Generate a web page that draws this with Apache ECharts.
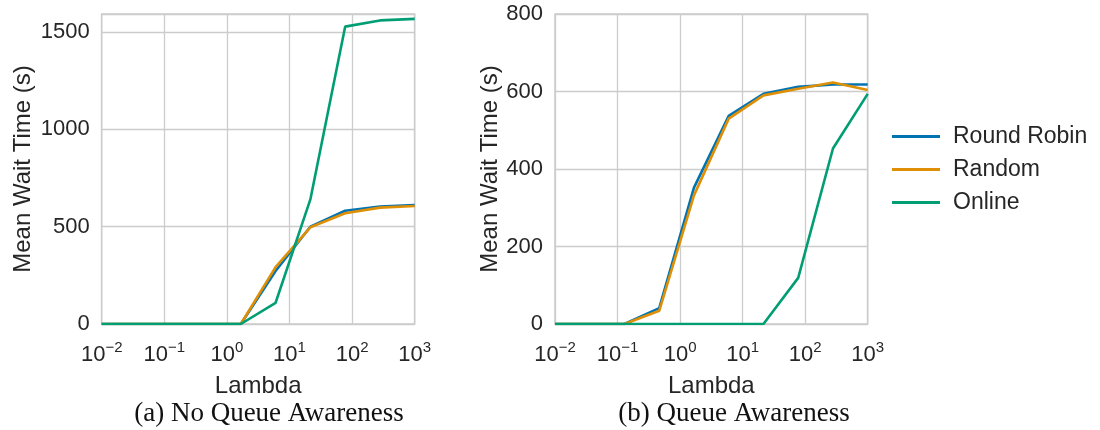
<!DOCTYPE html>
<html>
<head>
<meta charset="utf-8">
<script src="https://cdn.jsdelivr.net/npm/echarts@6/dist/echarts.min.js"></script>
<style>html,body{margin:0;padding:0;background:#fff}#c{width:1100px;height:430px}</style>
</head>
<body>
<div id="c"></div>
<script>
// Lambda values (log-spaced, 10 points from 1e-2 to 1e3)
const lambdas = [0.01, 0.0359, 0.129, 0.464, 1.668, 5.995, 21.54, 77.43, 278.3, 1000];
const seriesNames = ['Round Robin', 'Random', 'Online'];
// (a) No Queue Awareness
const noQA_roundRobin = [0, 0, 0, 0, 0, 272, 500, 582, 603, 611];
const noQA_random     = [0, 0, 0, 0, 0, 292, 497, 569, 598, 606];
const noQA_online     = [0, 0, 0, 0, 0, 109, 640, 1528, 1560, 1568];
// (b) Queue Awareness
const qa_roundRobin = [0, 0, 0, 41, 352, 537, 594, 612, 618, 618];
const qa_random     = [0, 0, 0, 34, 332, 530, 590, 607, 623, 604];
const qa_online     = [0, 0, 0, 0, 0, 0, 0, 119, 453, 594];
// tick labels
const leftYTicks = [0, 500, 1000, 1500];
const rightYTicks = [0, 200, 400, 600, 800];
const captions = ['(a) No Queue Awareness', '(b) Queue Awareness'];

const colors = ['#0173b2', '#de8f05', '#029e73'];
const textColor = '#262626';
const gridColor = '#cccccc';
const sans = 'Liberation Sans, Arial, sans-serif';
const serif = 'Liberation Serif, Times New Roman, serif';

function pairs(ys) { return lambdas.map((x, i) => [x, ys[i]]); }

const chart = echarts.init(document.getElementById('c'), null, {renderer: 'canvas'});

function xAxisDef(gi) {
  return {
    type: 'log', logBase: 10, min: 0.01, max: 1000, gridIndex: gi,
    name: 'Lambda', nameLocation: 'middle', nameGap: 38,
    nameTextStyle: {fontFamily: sans, fontSize: 24, color: textColor},
    axisLine: {show: false}, axisTick: {show: false},
    splitLine: {show: true, lineStyle: {color: gridColor, width: 1.3}},
    minorTick: {show: false}, minorSplitLine: {show: false},
    axisLabel: {
      margin: 19,
      formatter: function (v) {
        const e = Math.round(Math.log10(v));
        return '{b|10}{s|' + (e < 0 ? '\u2212' + (-e) : e) + '}';
      },
      rich: {
        b: {fontFamily: sans, fontSize: 22, color: textColor, lineHeight: 24},
        s: {fontFamily: sans, fontSize: 15, color: textColor, lineHeight: 15, padding: [0, 0, 14, 0]}
      }
    }
  };
}
function yAxisDef(gi, ticks, max, interval, gap) {
  return {
    type: 'value', min: 0, max: max, interval: interval, gridIndex: gi,
    name: 'Mean Wait Time (s)', nameLocation: 'middle', nameGap: gap, nameRotate: 90,
    nameTextStyle: {fontFamily: sans, fontSize: 24, color: textColor},
    axisLine: {show: false}, axisTick: {show: false},
    splitLine: {show: true, lineStyle: {color: gridColor, width: 1.3}},
    axisLabel: {
      margin: 12, showMaxLabel: max % interval === 0,
      fontFamily: sans, fontSize: 22, color: textColor,
      formatter: function (v) { return ticks.indexOf(v) >= 0 ? String(v) : ''; }
    }
  };
}
function lineSeries(name, ys, gi, ci) {
  return {
    name: name, type: 'line', xAxisIndex: gi, yAxisIndex: gi,
    data: pairs(ys), showSymbol: false, symbol: 'none', clip: true,
    lineStyle: {width: 2.6, color: colors[ci]}, itemStyle: {color: colors[ci]},
    emphasis: {disabled: true}, animation: false
  };
}

chart.setOption({
  animation: false,
  backgroundColor: '#ffffff',
  grid: [
    {left: 101.7, top: 14, width: 313, height: 310, show: true, borderColor: gridColor, borderWidth: 1.5, containLabel: false},
    {left: 555, top: 14, width: 312.7, height: 310, show: true, borderColor: gridColor, borderWidth: 1.5, containLabel: false}
  ],
  xAxis: [xAxisDef(0), xAxisDef(1)],
  yAxis: [yAxisDef(0, leftYTicks, 1593, 500, 66), yAxisDef(1, rightYTicks, 800, 200, 53)],
  legend: {
    data: seriesNames, orient: 'vertical', left: 887, top: 119,
    icon: 'rect', itemWidth: 48, itemHeight: 3, itemGap: 8,
    textStyle: {fontFamily: sans, fontSize: 23, color: textColor, lineHeight: 25, padding: [0, 0, 0, 8]}
  },
  title: [
    {text: captions[0], left: 264, top: 395, textAlign: 'center',
     textStyle: {fontFamily: serif, fontSize: 27, fontWeight: 'normal', color: '#111'}},
    {text: captions[1], left: 729, top: 395, textAlign: 'center',
     textStyle: {fontFamily: serif, fontSize: 27, fontWeight: 'normal', color: '#111'}}
  ],
  series: [
    lineSeries(seriesNames[0], noQA_roundRobin, 0, 0),
    lineSeries(seriesNames[1], noQA_random, 0, 1),
    lineSeries(seriesNames[2], noQA_online, 0, 2),
    lineSeries(seriesNames[0], qa_roundRobin, 1, 0),
    lineSeries(seriesNames[1], qa_random, 1, 1),
    lineSeries(seriesNames[2], qa_online, 1, 2)
  ]
});
</script>
</body>
</html>
